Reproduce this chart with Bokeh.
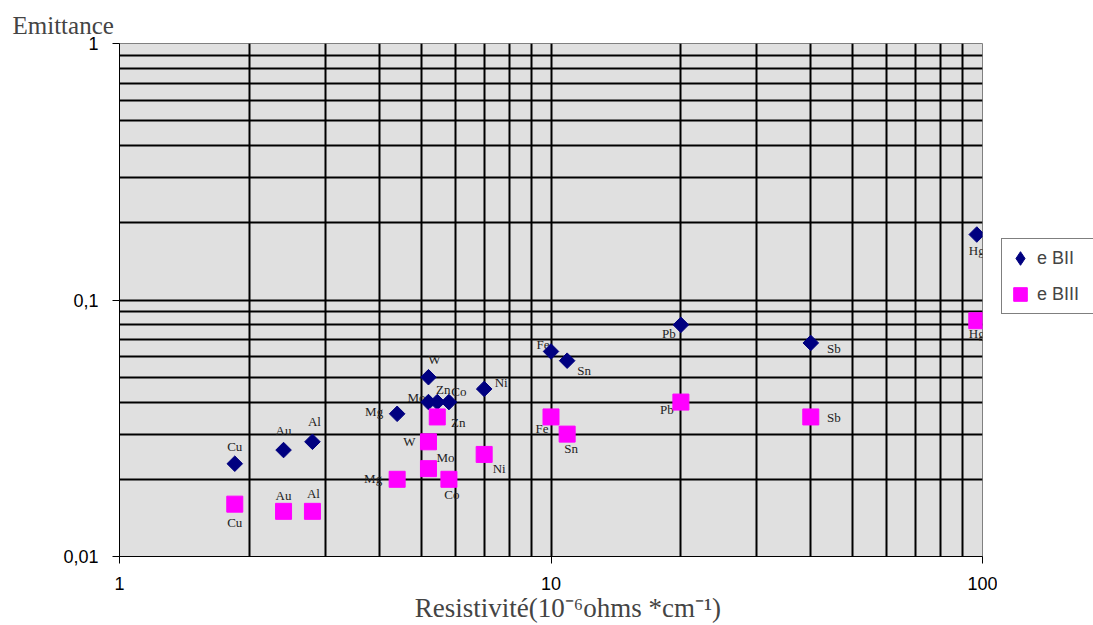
from bokeh.plotting import figure
from bokeh.layouts import row
from bokeh.models import Range1d, FixedTicker, Legend, LegendItem, ColumnDataSource
from bokeh.core.properties import value
from bokeh.embed import file_html
from bokeh.resources import INLINE
import numpy as np

# ---- data ----
metals = ["Cu", "Au", "Al", "Mg", "W", "Mo", "Zn", "Co", "Ni", "Fe", "Sn", "Pb", "Sb", "Hg"]
resistivity = [1.85, 2.4, 2.8, 4.4, 5.2, 5.2, 5.45, 5.8, 7.0, 10.0, 10.9, 20.0, 40.0, 97.0]
emit_BII = [0.023, 0.026, 0.028, 0.036, 0.050, 0.040, 0.040, 0.040, 0.045, 0.063, 0.058, 0.080, 0.068, 0.18]
emit_BIII = [0.016, 0.015, 0.015, 0.020, 0.028, 0.022, 0.035, 0.020, 0.025, 0.035, 0.030, 0.040, 0.035, 0.083]
series_names = ["e BII", "e BIII"]

x_ticks = [1, 10, 100]
y_ticks = [0.01, 0.1, 1]
y_tick_labels = {0.01: "0,01", 0.1: "0,1", 1: "1"}

# label placement (screen pixels relative to marker)
bii_dx = [0, 0, 2, -23, 6, -12, 6, 10, 17, -8, 17, -12, 23, 0]
bii_dy = [-17, -20, -20, -2, -18, -5, -13, -11, -6, -7, 10, 9, 6, 16]
biii_dx = [0, 0, 1, -24, -19, 17, 21, 3, 15, -9, 4, -14, 23, 0]
biii_dy = [18, -16, -18, -1, 0, -11, 6, 15, 14, 12, 14, 7, 1, 13]

src2 = ColumnDataSource(dict(x=resistivity, y=emit_BII, name=metals, dx=bii_dx, dy=bii_dy))
src3 = ColumnDataSource(dict(x=resistivity, y=emit_BIII, name=metals, dx=biii_dx, dy=biii_dy))

NAVY = "#000080"
MAGENTA = "#FF00FF"

p = figure(width=997, height=625, x_axis_type="log", y_axis_type="log",
           x_range=Range1d(1, 100), y_range=Range1d(0.01, 1),
           output_backend="svg", toolbar_location=None,
           min_border_left=119, min_border_right=15, min_border_top=43, min_border_bottom=68)
p.border_fill_color = "white"
p.background_fill_color = "#E0E0E0"
p.outline_line_color = "#808080"

minor_x = [v * d for d in (1, 10) for v in range(2, 10)]
minor_y = [v * d for d in (0.01, 0.1) for v in range(2, 10)]
p.xaxis.ticker = FixedTicker(ticks=x_ticks, minor_ticks=minor_x)
p.yaxis.ticker = FixedTicker(ticks=y_ticks, minor_ticks=minor_y)
p.yaxis.major_label_overrides = y_tick_labels
p.xaxis.major_label_overrides = {1: "1", 10: "10", 100: "100"}

for ax in (p.xaxis, p.yaxis):
    ax.axis_line_color = "black"
    ax.axis_line_width = 1
    ax.major_tick_out = 7
    ax.major_tick_in = 0
    ax.minor_tick_out = 0
    ax.minor_tick_in = 0
    ax.major_tick_line_color = "black"
    ax.major_label_text_font = "Liberation Sans"
    ax.major_label_text_font_size = "18px"
    ax.major_label_text_color = "black"
p.xaxis.major_label_standoff = 13
p.yaxis.major_label_standoff = 14

# leading no-break spaces nudge the centred title a little to the right, as in the original
p.xaxis.axis_label = "\u00a0" * 5 + "Resistivité(10\u207b\u2076ohms *cm\u207b\u00b9)"
p.xaxis.axis_label_text_font = "Liberation Serif"
p.xaxis.axis_label_text_font_size = "27px"
p.xaxis.axis_label_text_font_style = "normal"
p.xaxis.axis_label_standoff = 0

p.title.text = "Emittance"
p.title.text_font = "Liberation Serif"
p.title.text_font_size = "25px"
p.title.text_font_style = "normal"
p.title.align = "left"
p.title.offset = -107
p.title.standoff = 10

for g in (p.xgrid, p.ygrid):
    g.grid_line_color = "black"
    g.grid_line_width = 2
    g.minor_grid_line_color = "black"
    g.minor_grid_line_width = 2

# labels first so markers sit on top
for src in (src2, src3):
    p.text(x="x", y="y", text="name", source=src, x_offset="dx", y_offset="dy",
           text_font=value("Liberation Serif"), text_font_size="13px",
           text_color="#222222", text_align="center", text_baseline="middle")

p.scatter(x="x", y="y", source=src2, marker="square", angle=np.pi / 4,
          size=11, fill_color=NAVY, line_color=NAVY)
p.scatter(x="x", y="y", source=src3, marker="square",
          size=16, fill_color=MAGENTA, line_color=MAGENTA)

# ---- legend panel (separate narrow figure to the right) ----
lp = figure(width=96, height=625, x_range=Range1d(0, 1), y_range=Range1d(0, 1),
            output_backend="svg", toolbar_location=None, min_border=0)
lp.axis.visible = False
lp.grid.visible = False
lp.outline_line_color = None
lp.background_fill_color = "white"
lp.border_fill_color = "white"
# series renderers for the legend (their points lie outside this panel's range)
l2 = lp.scatter(x="x", y="y", source=src2, marker="diamond", size=11,
                fill_color=NAVY, line_color=NAVY)
l3 = lp.scatter(x="x", y="y", source=src3, marker="square", size=16,
                fill_color=MAGENTA, line_color=MAGENTA)

legend = Legend(items=[LegendItem(label=series_names[0], renderers=[l2]),
                       LegendItem(label=series_names[1], renderers=[l3])],
                location=(4, 242), margin=0)
legend.label_text_font = "Liberation Sans"
legend.label_text_font_size = "18px"
legend.border_line_color = "black"
legend.border_line_width = 1
legend.background_fill_color = "white"
legend.background_fill_alpha = 1
legend.padding = 1
legend.spacing = 0
legend.glyph_width = 34
legend.glyph_height = 36
legend.label_standoff = 0
legend.label_width = 55
lp.add_layout(legend)

layout = row(p, lp, spacing=0)
open("out.html", "w").write(file_html(layout, INLINE))
